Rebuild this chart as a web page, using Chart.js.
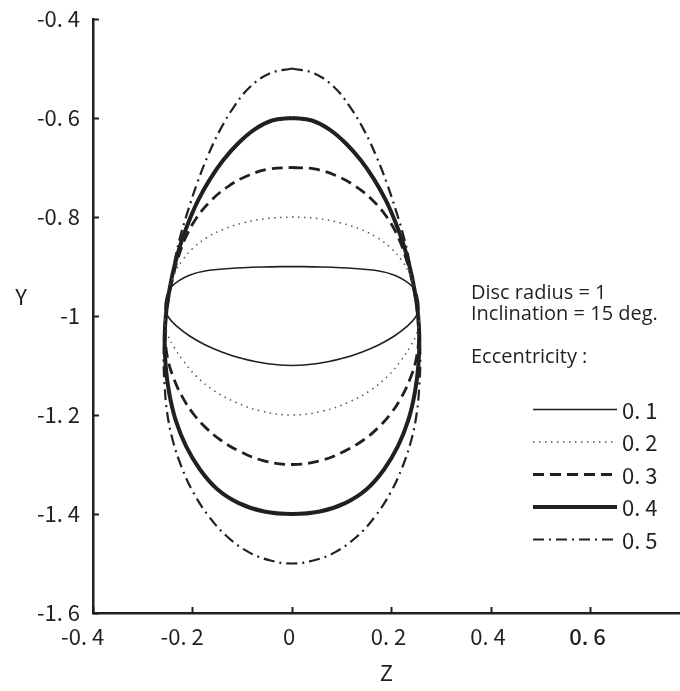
<!DOCTYPE html>
<html>
<head>
<meta charset="utf-8">
<script src="https://cdn.jsdelivr.net/npm/chart.js@4.4.1/dist/chart.umd.min.js"></script>
<style>
  html, body { margin: 0; padding: 0; background: #ffffff; }
  canvas { display: block; }
</style>
</head>
<body>
<canvas id="chart" width="680" height="691"></canvas>
<script>
// ---- data -------------------------------------------------------------
const eccLabels = ['0. 1', '0. 2', '0. 3', '0. 4', '0. 5'];
const infoLines = ['Disc radius = 1', 'Inclination = 15 deg.', 'Eccentricity :'];

const xTicks = [-0.4, -0.2, 0, 0.2, 0.4, 0.6];
const xTickLabels = ['-0. 4   ', '-0. 2   ', '0', '0. 2', '0. 4', '0. 6'];
const yTicks = [-1.6, -1.4, -1.2, -1, -0.8, -0.6, -0.4];
const yTickLabels = ['-1. 6', '-1. 4', '-1. 2', '-1', '-0. 8', '-0. 6', '-0. 4'];

// each outline runs clockwise from its top point back to it; Z then Y
// e = 0.1
const z1 = [0, 0.060, 0.125, 0.175, 0.205, 0.228, 0.244, 0.252, 0.255, 0.248, 0.230, 0.205, 0.175, 0.140, 0.100, 0.052, 0,
            -0.052, -0.100, -0.140, -0.175, -0.205, -0.230, -0.248, -0.255, -0.252, -0.244, -0.228, -0.205, -0.175, -0.125, -0.060, 0];
const y1 = [-0.900, -0.901, -0.904, -0.909, -0.917, -0.929, -0.943, -0.960, -0.985, -1.003, -1.022, -1.041, -1.058, -1.073, -1.086, -1.096, -1.100,
            -1.096, -1.086, -1.073, -1.058, -1.041, -1.022, -1.003, -0.985, -0.960, -0.943, -0.929, -0.917, -0.909, -0.904, -0.901, -0.900];
// e = 0.2
const z2 = [0, 0.050, 0.098, 0.138, 0.172, 0.199, 0.220, 0.236, 0.247, 0.254, 0.256, 0.250, 0.237, 0.219, 0.193, 0.158, 0.114, 0.062, 0,
            -0.062, -0.114, -0.158, -0.193, -0.219, -0.237, -0.250, -0.256, -0.254, -0.247, -0.236, -0.220, -0.199, -0.172, -0.138, -0.098, -0.050, 0];
const y2 = [-0.800, -0.803, -0.812, -0.825, -0.842, -0.863, -0.887, -0.914, -0.944, -0.976, -1.008, -1.037, -1.063, -1.090, -1.121, -1.150, -1.174, -1.192, -1.200,
            -1.192, -1.174, -1.150, -1.121, -1.090, -1.063, -1.037, -1.008, -0.976, -0.944, -0.914, -0.887, -0.863, -0.842, -0.825, -0.812, -0.803, -0.800];
// e = 0.3
const z3 = [0, 0.045, 0.088, 0.128, 0.163, 0.192, 0.214, 0.230, 0.242, 0.251, 0.255, 0.250, 0.237, 0.219, 0.198, 0.173, 0.143, 0.106, 0.058, 0,
            -0.058, -0.106, -0.143, -0.173, -0.198, -0.219, -0.237, -0.250, -0.255, -0.251, -0.242, -0.230, -0.214, -0.192, -0.163, -0.128, -0.088, -0.045, 0];
const y3 = [-0.700, -0.703, -0.716, -0.738, -0.767, -0.802, -0.842, -0.886, -0.933, -0.983, -1.035, -1.085, -1.128, -1.166, -1.198, -1.226, -1.251, -1.273, -1.292, -1.300,
            -1.292, -1.273, -1.251, -1.226, -1.198, -1.166, -1.128, -1.085, -1.035, -0.983, -0.933, -0.886, -0.842, -0.802, -0.767, -0.738, -0.716, -0.703, -0.700];
// e = 0.4
const z4 = [0, 0.040, 0.075, 0.108, 0.138, 0.165, 0.188, 0.207, 0.223, 0.236, 0.246, 0.253, 0.256, 0.254, 0.247, 0.234, 0.213, 0.185, 0.150, 0.107, 0.056, 0,
            -0.056, -0.107, -0.150, -0.185, -0.213, -0.234, -0.247, -0.254, -0.256, -0.253, -0.246, -0.236, -0.223, -0.207, -0.188, -0.165, -0.138, -0.108, -0.075, -0.040, 0];
const y4 = [-0.600, -0.605, -0.623, -0.651, -0.685, -0.724, -0.765, -0.808, -0.852, -0.898, -0.945, -0.993, -1.045, -1.100, -1.155, -1.210, -1.263, -1.310, -1.350, -1.378, -1.395, -1.400,
            -1.395, -1.378, -1.350, -1.310, -1.263, -1.210, -1.155, -1.100, -1.045, -0.993, -0.945, -0.898, -0.852, -0.808, -0.765, -0.724, -0.685, -0.651, -0.623, -0.605, -0.600];
// e = 0.5
const z5 = [0, 0.045, 0.085, 0.117, 0.145, 0.169, 0.190, 0.209, 0.226, 0.239, 0.249, 0.255, 0.258, 0.256, 0.251, 0.240, 0.222, 0.198, 0.167, 0.130, 0.087, 0.043, 0,
            -0.043, -0.087, -0.130, -0.167, -0.198, -0.222, -0.240, -0.251, -0.256, -0.258, -0.255, -0.249, -0.239, -0.226, -0.209, -0.190, -0.169, -0.145, -0.117, -0.085, -0.045, 0];
const y5 = [-0.500, -0.510, -0.538, -0.578, -0.625, -0.676, -0.730, -0.787, -0.845, -0.905, -0.965, -1.025, -1.085, -1.140, -1.195, -1.250, -1.305, -1.357, -1.405, -1.446, -1.477, -1.494, -1.500,
            -1.494, -1.477, -1.446, -1.405, -1.357, -1.305, -1.250, -1.195, -1.140, -1.085, -1.025, -0.965, -0.905, -0.845, -0.787, -0.730, -0.676, -0.625, -0.578, -0.538, -0.510, -0.500];

// ---- styling ------------------------------------------------------------
const INK = '#231f20';
const NUM_FONT = '"Noto Sans CJK JP", "DejaVu Sans", sans-serif';
const TEXT_FONT = '"Open Sans", "Noto Sans", sans-serif';

const lineStyles = [
  { width: 1.6, dash: [],            color: INK },
  { width: 1.5, dash: [1.5, 4.5],    color: '#555555' },
  { width: 2.8, dash: [11, 6],       color: INK },
  { width: 4.0, dash: [],            color: INK },
  { width: 2.2, dash: [11, 5, 2, 5], color: INK }
];

const outlines = [[z1, y1], [z2, y2], [z3, y3], [z4, y4], [z5, y5]];
const toPoints = (zs, ys) => zs.map((z, i) => ({ x: z, y: ys[i] }));

const datasets = outlines.map((o, i) => ({
  label: eccLabels[i],
  data: toPoints(o[0], o[1]),
  showLine: true,
  fill: false,
  pointRadius: 0,
  pointHoverRadius: 0,
  tension: 0.4,
  borderColor: lineStyles[i].color,
  borderWidth: lineStyles[i].width,
  borderDash: lineStyles[i].dash
}));

// short tick marks pointing into the plot, plus axis titles and key
const decorations = {
  id: 'decorations',
  afterDraw(chart) {
    const ctx = chart.ctx;
    const area = chart.chartArea;
    const xs = chart.scales.x, ys = chart.scales.y;
    ctx.save();
    ctx.strokeStyle = INK;
    ctx.lineWidth = 2;
    xTicks.forEach(v => {
      const px = Math.round(xs.getPixelForValue(v)) + 0.5;
      ctx.beginPath();
      ctx.moveTo(px, area.bottom);
      ctx.lineTo(px, area.bottom - 6);
      ctx.stroke();
    });
    yTicks.forEach(v => {
      const py = Math.round(ys.getPixelForValue(v)) + 0.5;
      ctx.beginPath();
      ctx.moveTo(area.left, py);
      ctx.lineTo(area.left + 6, py);
      ctx.stroke();
    });

    // axis titles
    ctx.fillStyle = INK;
    ctx.font = '22px ' + NUM_FONT;
    ctx.textAlign = 'center';
    ctx.textBaseline = 'middle';
    ctx.fillText('Z', (area.left + area.right) / 2, 673);
    ctx.fillText('Y', 21, ys.getPixelForValue(-0.96));

    // description block
    ctx.font = '20px ' + TEXT_FONT;
    ctx.textAlign = 'left';
    ctx.textBaseline = 'alphabetic';
    const infoY = [299, 320, 363];
    infoLines.forEach((t, i) => ctx.fillText(t, 471, infoY[i]));

    // key rows
    const rowY0 = 409.5, rowStep = 32.5;
    eccLabels.forEach((lab, i) => {
      const y = rowY0 + i * rowStep;
      const st = lineStyles[i];
      ctx.save();
      ctx.strokeStyle = st.color;
      ctx.lineWidth = st.width;
      ctx.setLineDash(st.dash);
      ctx.beginPath();
      ctx.moveTo(533, y);
      ctx.lineTo(617, y);
      ctx.stroke();
      ctx.restore();
      ctx.font = '22px ' + NUM_FONT;
      ctx.textBaseline = 'middle';
      ctx.fillText(lab, 622, y + 1);
    });
    ctx.restore();
  }
};

new Chart(document.getElementById('chart'), {
  type: 'scatter',
  data: { datasets },
  options: {
    responsive: false,
    devicePixelRatio: 1,
    animation: false,
    layout: { padding: { top: 19, right: 0, left: 0, bottom: 0 } },
    plugins: { legend: { display: false }, tooltip: { enabled: false } },
    scales: {
      x: {
        type: 'linear',
        min: -0.4,
        max: 0.78,
        afterBuildTicks: s => { s.ticks = xTicks.map(v => ({ value: v })); },
        afterFit: s => { s.height = 78; s.paddingLeft = 0; s.paddingRight = 0; },
        grid: { display: false, drawTicks: false },
        border: { display: true, color: INK, width: 2.5 },
        ticks: {
          autoSkip: false, maxRotation: 0, padding: 10, labelOffset: -3,
          color: INK,
          font: c => ({ family: NUM_FONT, size: 22, weight: (c.tick && c.tick.value === 0.6) ? '500' : 'normal' }),
          callback: (v, i) => xTickLabels[i]
        }
      },
      y: {
        type: 'linear',
        min: -1.6,
        max: -0.4,
        afterBuildTicks: s => { s.ticks = yTicks.map(v => ({ value: v })); },
        afterFit: s => { s.width = 93; s.paddingTop = 0; s.paddingBottom = 0; },
        grid: { display: false, drawTicks: false },
        border: { display: true, color: INK, width: 2.5 },
        ticks: {
          autoSkip: false, padding: 13,
          color: INK,
          font: { family: NUM_FONT, size: 22 },
          callback: (v, i) => yTickLabels[i]
        }
      }
    }
  },
  plugins: [decorations]
});
</script>
</body>
</html>
